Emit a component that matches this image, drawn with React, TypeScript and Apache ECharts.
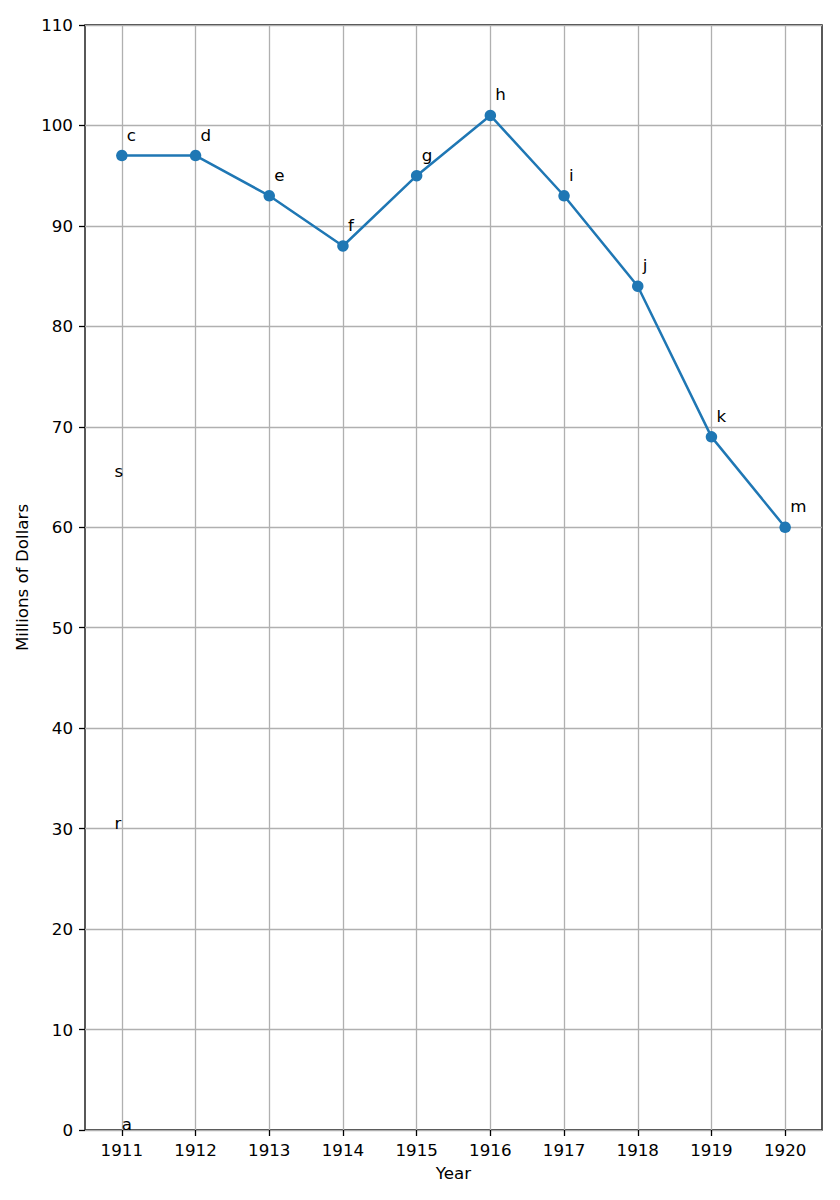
import React, { useEffect, useRef } from "react";
import * as echarts from "echarts";

const years = [1911, 1912, 1913, 1914, 1915, 1916, 1917, 1918, 1919, 1920];
const values = [97, 97, 93, 88, 95, 101, 93, 84, 69, 60];
const pointLabels = ["c", "d", "e", "f", "g", "h", "i", "j", "k", "m"];
const freeNotes: [number, number, string][] = [
  [1910.9, 65, "s"],
  [1910.9, 30, "r"],
  [1911, 0, "a"],
];
const yTicks = [0, 10, 20, 30, 40, 50, 60, 70, 80, 90, 100, 110];

const FONT = "DejaVu Sans";
const FS = 16.7;

export default function App() {
  const ref = useRef<HTMLDivElement>(null);
  useEffect(() => {
    if (!ref.current) return;
    const chart = echarts.init(ref.current, undefined, { renderer: "svg" });
    chart.setOption({
      animation: false,
      backgroundColor: "#ffffff",
      grid: {
        left: 85,
        right: 18,
        top: 25,
        bottom: 70,
        show: true,
        borderColor: "#000000",
        borderWidth: 1.3,
        backgroundColor: "transparent",
      },
      xAxis: {
        type: "value",
        min: 1910.5,
        max: 1920.5,
        name: "Year",
        nameLocation: "middle",
        nameGap: 34,
        nameTextStyle: { fontFamily: FONT, fontSize: FS, color: "#000" },
        axisLine: { show: false },
        axisTick: {
          show: true,
          length: 6,
          customValues: years,
          lineStyle: { color: "#000", width: 1.3 },
        },
        axisLabel: {
          customValues: years,
          margin: 11,
          fontFamily: FONT,
          fontSize: FS,
          color: "#000",
          formatter: (v: number) => String(v),
        },
        splitLine: { show: true, lineStyle: { color: "#b0b0b0", width: 1.3 } },
      },
      yAxis: {
        type: "value",
        min: 0,
        max: 110,
        interval: 10,
        name: "Millions of Dollars",
        nameLocation: "middle",
        nameGap: 47,
        nameTextStyle: { fontFamily: FONT, fontSize: FS, color: "#000" },
        axisLine: { show: false },
        axisTick: { show: true, length: 6, lineStyle: { color: "#000", width: 1.3 } },
        axisLabel: {
          margin: 12,
          fontFamily: FONT,
          fontSize: FS,
          color: "#000",
          customValues: yTicks,
        },
        splitLine: { show: true, lineStyle: { color: "#b0b0b0", width: 1.3 } },
      },
      series: [
        {
          type: "line",
          data: years.map((y, i) => [y, values[i]]),
          symbol: "circle",
          symbolSize: 11.5,
          showAllSymbol: true,
          lineStyle: { color: "#1f77b4", width: 2.5 },
          itemStyle: { color: "#1f77b4", opacity: 1 },
          label: {
            show: true,
            position: "inside",
            align: "left",
            verticalAlign: "middle",
            offset: [5, -21],
            fontFamily: FONT,
            fontSize: FS,
            color: "#000",
            textBorderWidth: 0,
            opacity: 1,
            formatter: (p: any) => pointLabels[p.dataIndex],
          },
          z: 3,
        },
        {
          type: "scatter",
          data: freeNotes.map((n) => [n[0], n[1]]),
          symbolSize: 0,
          itemStyle: { color: "#000", opacity: 1 },
          label: {
            show: true,
            position: "inside",
            align: "left",
            verticalAlign: "middle",
            offset: [0, -6],
            fontFamily: FONT,
            fontSize: FS,
            color: "#000",
            textBorderWidth: 0,
            opacity: 1,
            formatter: (p: any) => freeNotes[p.dataIndex][2],
          },
          z: 4,
        },
      ],
    });
    return () => chart.dispose();
  }, []);
  return <div ref={ref} style={{ width: 840, height: 1200, margin: -8 }} />;
}
